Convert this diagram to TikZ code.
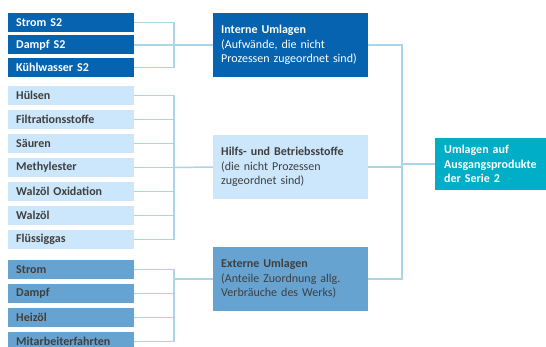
\documentclass[tikz,border=0pt]{standalone}
\usepackage{fontspec}
\setmainfont{Carlito}
\definecolor{dunkelblau}{HTML}{0563B0}
\definecolor{hellblau}{HTML}{CCE7FB}
\definecolor{mittelblau}{HTML}{67A3D1}
\definecolor{tuerkis}{HTML}{00AEC7}
\definecolor{linie}{HTML}{A9D6E6}
\definecolor{schrift}{HTML}{3F3F3F}
\begin{document}
\begin{tikzpicture}[
    x=1pt, y=-1pt,
    quelle/.style={rectangle, anchor=west, minimum height=19pt, text width=110pt,
        inner xsep=8pt, inner ysep=0pt, align=left,
        font=\fontsize{12}{14.5}\selectfont\bfseries},
    gruppe/.style={rectangle, anchor=west, minimum height=64pt, text width=139pt,
        inner xsep=8pt, inner ysep=0pt, align=left,
        font=\fontsize{12}{14.5}\selectfont},
    ziel/.style={rectangle, anchor=west, minimum height=52pt, text width=93pt,
        inner xsep=9pt, inner ysep=0pt, align=left, fill=tuerkis, text=white,
        font=\fontsize{12}{14.5}\selectfont\bfseries},
    intern/.style={fill=dunkelblau, text=white},
    hilfs/.style={fill=hellblau, text=schrift},
    extern/.style={fill=mittelblau, text=schrift},
    verbinder/.style={draw=linie, line width=1.5pt},
]
\useasboundingbox (0,0) rectangle (546,347);
\clip (0,0) rectangle (546,347);

% Spalte 1: interne Quellen
\node[quelle, intern] (strS) at (8, 22.5) {Strom S2};
\node[quelle, intern] (dmpS) at (8, 45) {Dampf S2};
\node[quelle, intern] (kwS) at (8, 67.5) {Kühlwasser S2};

% Spalte 1: Hilfs- und Betriebsstoffe
\node[quelle, hilfs] (huel) at (8, 95.5) {Hülsen};
\node[quelle, hilfs] (filt) at (8, 119.5) {Filtrationsstoffe};
\node[quelle, hilfs] (saeu) at (8, 143.5) {Säuren};
\node[quelle, hilfs] (meth) at (8, 167.5) {Methylester};
\node[quelle, hilfs] (wox) at (8, 191.5) {Walzöl Oxidation};
\node[quelle, hilfs] (walz) at (8, 215.5) {Walzöl};
\node[quelle, hilfs] (fgas) at (8, 239.5) {Flüssiggas};

% Spalte 1: externe Quellen
\node[quelle, extern] (str) at (8, 269.5) {Strom};
\node[quelle, extern] (dmp) at (8, 293.5) {Dampf};
\node[quelle, extern] (heiz) at (8, 317.5) {Heizöl};
\node[quelle, extern] (mafa) at (8, 341.5) {Mitarbeiterfahrten};

% Spalte 2: Umlagegruppen
\node[gruppe, intern] (gint) at (213, 45) {\textbf{Interne Umlagen}\\(Aufwände, die nicht\\Prozessen zugeordnet sind)};
\node[gruppe, hilfs] (ghb) at (213, 167) {\textbf{Hilfs- und Betriebsstoffe}\\(die nicht Prozessen\\zugeordnet sind)};
\node[gruppe, extern] (gext) at (213, 279) {\textbf{Externe Umlagen}\\(Anteile Zuordnung allg.\\Verbräuche des Werks)};

% Spalte 3: Ziel
\node[ziel] (serie) at (435, 164) {Umlagen auf\\Ausgangsprodukte\\der Serie 2};

% Sammelpunkte
\coordinate (k1) at (174, 45);
\coordinate (k2) at (174, 167.5);
\coordinate (k3) at (174, 279);
\coordinate (k4) at (402, 164);

% Verbinder interne Quellen
\draw[verbinder] (strS.east) -| (k1);
\draw[verbinder] (dmpS.east) -| (k1);
\draw[verbinder] (kwS.east) -| (k1);
\draw[verbinder] (k1) -- (gint.west);

% Verbinder Hilfs- und Betriebsstoffe
\draw[verbinder] (huel.east) -| (k2);
\draw[verbinder] (filt.east) -| (k2);
\draw[verbinder] (saeu.east) -| (k2);
\draw[verbinder] (meth.east) -| (k2);
\draw[verbinder] (wox.east) -| (k2);
\draw[verbinder] (walz.east) -| (k2);
\draw[verbinder] (fgas.east) -| (k2);
\draw[verbinder] (k2) -- (ghb.west);

% Verbinder externe Quellen
\draw[verbinder] (str.east) -| (k3);
\draw[verbinder] (dmp.east) -| (k3);
\draw[verbinder] (heiz.east) -| (k3);
\draw[verbinder] (mafa.east) -| (k3);
\draw[verbinder] (k3) -- (gext.west);

% Verbinder zum Ziel
\draw[verbinder] (gint.east) -| (k4);
\draw[verbinder] (ghb.east) -| (k4);
\draw[verbinder] (gext.east) -| (k4);
\draw[verbinder] (k4) -- (serie.west);

\end{tikzpicture}
\end{document}
